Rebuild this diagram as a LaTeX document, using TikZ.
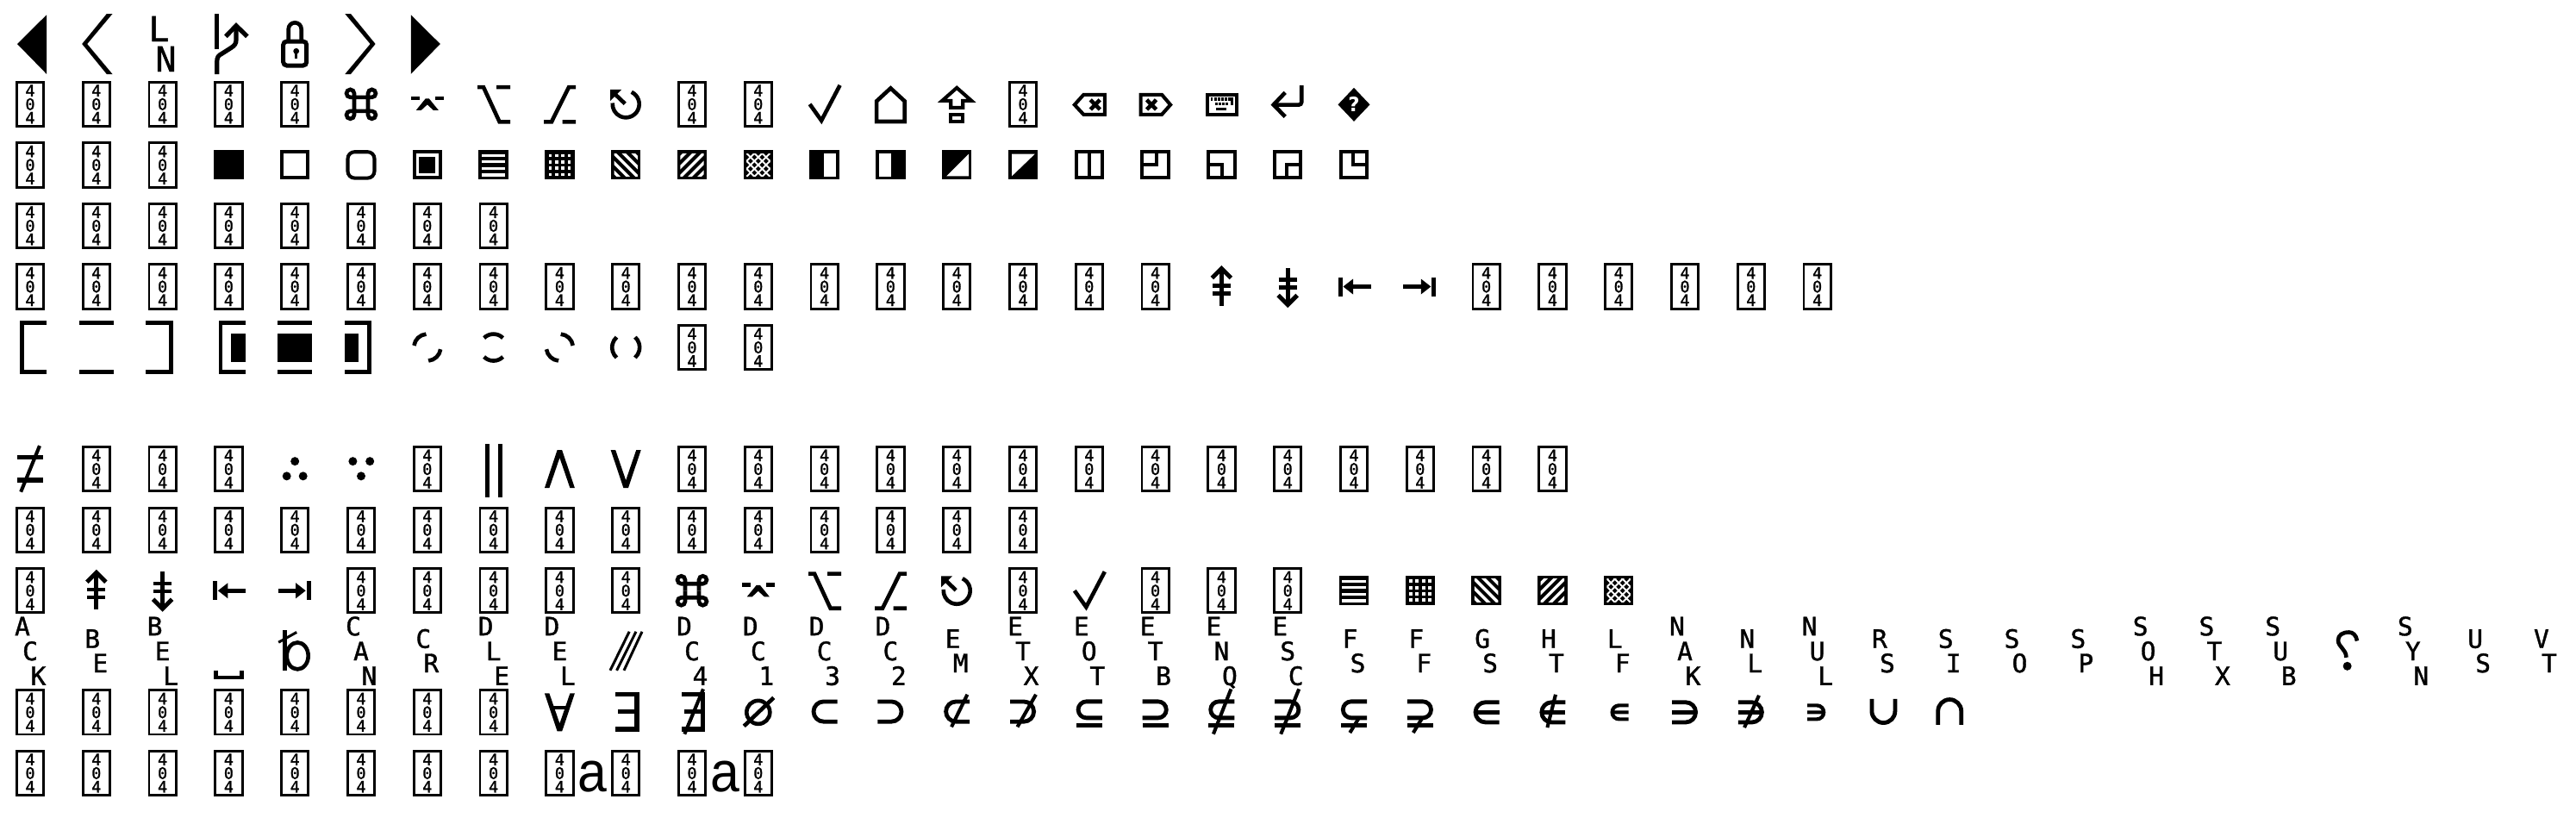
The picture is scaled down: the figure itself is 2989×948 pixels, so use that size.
\documentclass[tikz,border=0pt]{standalone}
\usepackage{fontspec}
\setmainfont{Liberation Sans}
\newfontfamily\monof[FakeBold=1.5]{DejaVu Sans Mono}
\newfontfamily\monoc[FakeBold=1.2]{DejaVu Sans Mono}
\newfontfamily\dejas{DejaVu Sans}
\tikzset{
  glyph/.style={line width=4.6pt,line cap=butt,line join=miter},
  sbar/.style={line width=4.8pt},
  thinl/.style={line width=4.1pt},
  missbox/.style={draw,line width=2.9pt,minimum width=31.3pt,minimum height=51.3pt,inner sep=0pt,align=center,
    font=\monof\fontsize{18.4}{15.8}\selectfont},
  letter/.style={inner sep=0pt,anchor=base,font=\monoc\fontsize{29.5}{30}\selectfont},
  bigletter/.style={inner sep=0pt,anchor=base,font=\monoc\fontsize{40}{40}\selectfont},
  lettera/.style={inner sep=0pt,anchor=base,xscale=0.92,transform shape,font=\fontsize{66}{66}\selectfont},
}
\newcommand{\glyphat}[3]{\begin{scope}[shift={({35+76.8*#1},{50.3+70.55*#2})},glyph]#3\end{scope}}
\newcommand{\boxes}[2]{\foreach \cc in {#2}{\node[missbox] (m#1-\cc) at ({35+76.8*\cc},{50.3+70.55*#1}) {4\\0\\4};}}
\newcommand{\trio}[4]{%
  \node[letter] (t#1a) at ({26+76.8*#1},737.2) {#2};
  \node[letter] (t#1b) at ({35+76.8*#1},766) {#3};
  \node[letter] (t#1c) at ({44.5+76.8*#1},794.8) {#4};}
\newcommand{\duo}[3]{%
  \node[letter] (t#1a) at ({30.5+76.8*#1},751.7) {#2};
  \node[letter] (t#1b) at ({39.5+76.8*#1},780) {#3};}
% chevron / triangle
\newcommand{\gTri}{\fill (-15,0.7)--(19,-33)--(19,35.5)--cycle;}
\newcommand{\gChev}{\fill (12,-34.3)--(18.7,-34.3)--(-10.6,0.7)--(18.7,35.7)--(12,35.7)--(-16.6,0.7)--cycle;}
% key symbols
\newcommand{\gCmd}{\foreach \sx/\sy in {1/1,-1/1,1/-1,-1/-1}{\draw[xscale=\sx,yscale=\sy] (0,8)--(8,8)--(8,12.5) arc[start angle=180,end angle=-90,radius=4.5]--(8,8)--(8,0);}}
\newcommand{\gCtl}{\draw (-18.8,-7)--(-8.8,-7) (9.2,-7)--(19.2,-7);
  \fill (-13,7)--(-7,7)--(0,0.5)--(7,7)--(13,7)--(2,-6.5)--(-2,-6.5)--cycle;}
\newcommand{\gOptA}{\draw[line width=4.6pt] (-18.6,-19.7)--(-11.6,-19.7)--(7,20.5)--(19.4,20.5) (3.4,-19.7)--(19.4,-19.7);}
\newcommand{\gOptB}{\draw[line width=4.6pt] (18.6,-19.7)--(10.6,-19.7)--(-9.4,20.5)--(-18.4,20.5) (3.3,20.5)--(18.6,20.5);}
\newcommand{\gUndo}{\draw (-65:15.5) arc[start angle=-65,end angle=185,radius=15.5];
  \draw (-13,-12)--(-1,-0.5); \fill (-18,-17)--(-5,-17)--(-18,-4)--cycle;}
\newcommand{\gCheck}{\draw (-17,0)--(-3.5,19)--(18,-22);}
% fills
\newcommand{\gFrame}{\fill (-17.2,-17) rectangle (17.2,17);}
\newcommand{\gHoriz}{\gFrame\foreach \a/\b in {-12.7/-9.3,-5.3/-2,2.3/5.7,10/13.4}{\fill[white] (-13.7,\a) rectangle (13.7,\b);}}
\newcommand{\gGrid}{\gFrame\foreach \a in {-11,-3.6,3.8,11}{\foreach \b in {-11,-3.6,3.8,11}{\fill[white] ({\a-1.9},{\b-1.9}) rectangle ({\a+1.9},{\b+1.9});}}}
\newcommand{\gDiagA}{\gFrame\begin{scope}\clip (-13.7,-13.4) rectangle (13.7,13.4);\foreach \d in {-22,-11,0,11,22}{\draw[white,line width=3.4pt] ({\d-20},-20)--({\d+20},20);}\end{scope}}
\newcommand{\gDiagB}{\gFrame\begin{scope}\clip (-13.7,-13.4) rectangle (13.7,13.4);\foreach \d in {-22,-11,0,11,22}{\draw[white,line width=3.4pt] ({\d+20},-20)--({\d-20},20);}\end{scope}}
\newcommand{\gCross}{\gFrame\begin{scope}\clip (-13.7,-13.4) rectangle (13.7,13.4);\foreach \d in {-27,-18,-9,0,9,18,27}{\draw[white,line width=1.9pt] ({\d+20},-20)--({\d-20},20) ({\d-20},-20)--({\d+20},20);}\end{scope}}
\newcommand{\gOutl}{\draw[thinl] (-15.2,-15) rectangle (15.2,15);}
% arrows
\newcommand{\gUpBars}{\draw[line width=4.8pt] (0,-20)--(0,22); \draw[line width=4.4pt] (-10.5,-1)--(10.5,-1) (-10.5,8)--(10.5,8); \draw[line width=5pt] (-11,-10)--(0,-21)--(11,-10);}
\newcommand{\gBarL}{\draw[line width=5pt] (-16,-11)--(-16,11) (-2,0)--(19.5,0); \fill (-12.5,0)--(-1,-9)--(-1,9)--cycle;}
% subset family
\newcommand{\subC}[3]{\draw[sbar] (#3,-#2)--(#1,-#2) arc[start angle=270,end angle=90,radius=#2]--(#3,#2);}
\newcommand{\gSubset}{\begin{scope}[yshift=0.8pt]\subC{-1}{11.6}{15}\end{scope}}
\newcommand{\gSubeq}{\begin{scope}[yshift=3pt]\subC{-3.2}{9.5}{15}\end{scope}\draw[sbar] (-15,15.3)--(15,15.3);}
\newcommand{\gIn}{\subC{-1}{11.6}{15}\draw[sbar] (-12,0)--(15,0);}
\newcommand{\gSmallIn}{\draw[line width=4.2pt] (11.5,-8)--(0.4,-8) arc[start angle=270,end angle=90,radius=8]--(11.5,8) (-7.5,0)--(11.5,0);}
\newcommand{\gExists}{\draw[line width=5.2pt] (-12,-21)--(12.8,-21)--(12.8,19.7)--(-12,19.7) (-9,-1)--(12.8,-1);}
\newcommand{\gVee}{\fill (-17.5,-22)--(-12,-22)--(0,13)--(12,-22)--(17.5,-22)--(2.8,22)--(-2.8,22)--cycle;}
\newcommand{\slashed}[4]{\draw[thinl] (#1,#2)--(#3,#4);}

\begin{document}
\begin{tikzpicture}[x=1pt,y=-1pt]
\useasboundingbox (0,0) rectangle (2989,948);
\fill[white] (0,0) rectangle (2989,948);

% ---------- 404 boxes
\boxes{1}{0,1,2,3,4,10,11,15}
\boxes{2}{0,1,2}
\boxes{3}{0,1,2,3,4,5,6,7}
\boxes{4}{0,1,...,17,22,23,24,25,26,27}
\boxes{5}{10,11}
\boxes{7}{1,2,3,6,10,11,...,23}
\boxes{8}{0,1,...,15}
\boxes{9}{0,5,6,7,8,9,15,17,18,19}
\boxes{11}{0,1,...,7}
\boxes{12}{0,1,...,11}

% ---------- row 0
\glyphat{0}{0}{\gTri}
\glyphat{1}{0}{\gChev}
\node[bigletter] (ln1) at (184.5,48) {L};
\node[bigletter] (ln2) at (192.5,83) {N};
\glyphat{3}{0}{\draw[line width=5.2pt] (-13.7,-34)--(-13.7,6.5);
  \draw[line width=5.2pt] (-13.7,35.7)--(-13.7,22) .. controls (-13.7,16) and (-12,14) .. (-8,12) -- (3,5) .. controls (7,2.5) and (8.6,0) .. (8.6,-4) -- (8.6,-19);
  \draw[line width=5.2pt] (-3.5,-8)--(8.6,-20.5)--(21.5,-8);}
\glyphat{4}{0}{\draw[line width=5pt,rounded corners=4pt] (-13.5,-2.3) rectangle (13.5,25.7);
  \draw (-7.5,-2)--(-7.5,-16.5) arc[start angle=180,end angle=360,radius=7.5]--(7.5,-2);
  \fill (1.5,9) circle[radius=3.4];
  \draw[line width=3pt] (1.5,9)--(1.5,18);}
\glyphat{5}{0}{\begin{scope}[xscale=-1]\gChev\end{scope}}
\glyphat{6}{0}{\begin{scope}[xscale=-1]\gTri\end{scope}}

% ---------- row 1
\glyphat{5}{1}{\gCmd}
\glyphat{6}{1}{\gCtl}
\glyphat{7}{1}{\gOptA}
\glyphat{8}{1}{\gOptB}
\glyphat{9}{1}{\gUndo}
\glyphat{12}{1}{\gCheck}
\glyphat{13}{1}{\draw (0,-18.5)--(16.3,-3.5)--(16.3,20.1)--(-16.3,20.1)--(-16.3,-3.5)--cycle;}
\glyphat{14}{1}{\draw[thinl] (0,-19)--(17,-4)--(7,-4)--(7,4)--(-7,4)--(-7,-4)--(-17,-4)--cycle;
  \draw[thinl] (-6.8,12.5) rectangle (6.8,20.5);}
\glyphat{16}{1}{\draw[thinl] (-17,0.7)--(-6.5,-11)--(18,-11)--(18,12)--(-6.5,12)--cycle;
  \draw (1.5,-5)--(12.5,6.2) (12.5,-5)--(1.5,6.2);}
\glyphat{17}{1}{\draw[thinl] (-17,-11)--(7.5,-11)--(17.5,0.7)--(7.5,12)--(-17,12)--cycle;
  \draw (-10,-5)--(1,6.2) (1,-5)--(-10,6.2);}
\glyphat{18}{1}{\draw[thinl] (-16.7,-11)rectangle(17.7,12);
  \foreach \a in {-12.7,-8.5,-4.5,-0.5,3.5,7.5,11}{\fill ({\a},-7.5) rectangle ({\a+2.6},-3.8);}
  \foreach \a in {-7,-3,1,5}{\fill ({\a},-2.2) rectangle ({\a+2.6},1.6);}
  \fill (11,-7.5) rectangle (13.6,1.6);
  \fill (-6,4.5) rectangle (6,7.6);}
\glyphat{19}{1}{\draw[rounded corners=3pt] (-15,0.7)--(16,0.7)--(16,-21.7);
  \draw (-3,-13.5)--(-16.5,0.7)--(-3,14.5);}
\glyphat{20}{1}{\fill (0,-19)--(18.5,0.5)--(0,20)--(-18.5,0.5)--cycle;
  \node[white,inner sep=0pt,font=\dejas\bfseries\fontsize{23}{23}\selectfont] (qd) at (0,0.5) {?};}

% ---------- row 2
\glyphat{3}{2}{\gFrame}
\glyphat{4}{2}{\gOutl}
\glyphat{5}{2}{\draw[thinl,rounded corners=8pt] (-15.5,-15.2) rectangle (15.5,15.2);}
\glyphat{6}{2}{\gOutl\fill (-9.5,-9.5) rectangle (9.5,9.5);}
\glyphat{7}{2}{\gHoriz}
\glyphat{8}{2}{\gGrid}
\glyphat{9}{2}{\gDiagA}
\glyphat{10}{2}{\gDiagB}
\glyphat{11}{2}{\gCross}
\glyphat{12}{2}{\gFrame\fill[white] (-1,-13.3) rectangle (13.4,13.3);}
\glyphat{13}{2}{\gFrame\fill[white] (-13.4,-13.3) rectangle (1,13.3);}
\glyphat{14}{2}{\gFrame\fill[white] (13.8,-12.7)--(-11.9,13)--(13.8,13)--cycle;}
\glyphat{15}{2}{\gFrame\fill[white] (-13,-12.7)--(13.7,-12.7)--(-13,13)--cycle;}
\glyphat{16}{2}{\gOutl\draw[thinl] (0,-15)--(0,15);}
\glyphat{17}{2}{\gOutl\draw[thinl] (1,-15)--(1,0)--(-15,0);}
\glyphat{18}{2}{\gOutl\draw[thinl] (-15,0)--(1,0)--(1,15);}
\glyphat{19}{2}{\gOutl\draw[thinl] (-1,15)--(-1,0)--(15,0);}
\glyphat{20}{2}{\gOutl\draw[thinl] (-1,-15)--(-1,0)--(15,0);}

% ---------- row 4
\glyphat{18}{4}{\gUpBars}
\glyphat{19}{4}{\begin{scope}[yscale=-1]\gUpBars\end{scope}}
\glyphat{20}{4}{\gBarL}
\glyphat{21}{4}{\begin{scope}[xscale=-1]\gBarL\end{scope}}

% ---------- row 5
\glyphat{0}{5}{\draw[line width=5pt] (19,-28.3)--(-9.5,-28.3)--(-9.5,28.3)--(19,28.3);}
\glyphat{1}{5}{\draw[line width=5pt] (-20,-28.3)--(20,-28.3) (-20,28.3)--(20,28.3);}
\glyphat{2}{5}{\draw[line width=5pt] (-19.6,-28.3)--(9.8,-28.3)--(9.8,28.3)--(-19.6,28.3);}
\glyphat{3}{5}{\draw[line width=4.6pt] (19.6,-28.3)--(-9.3,-28.3)--(-9.3,28.3)--(19.6,28.3);\fill (2.5,-16.5) rectangle (19.6,17);}
\glyphat{4}{5}{\draw[line width=4.6pt] (-20,-28.3)--(20,-28.3) (-20,28.3)--(20,28.3);\fill (-20,-16.5) rectangle (20,17);}
\glyphat{5}{5}{\draw[line width=4.6pt] (-19,-28.3)--(9.7,-28.3)--(9.7,28.3)--(-19,28.3);\fill (-19,-16.5) rectangle (-2.6,17);}
\glyphat{6}{5}{\draw[line width=4.6pt] (188:15.5) arc[start angle=188,end angle=265,radius=15.5] (8:15.5) arc[start angle=8,end angle=85,radius=15.5];}
\glyphat{7}{5}{\draw[line width=4.6pt] (225:15.5) arc[start angle=225,end angle=315,radius=15.5] (45:15.5) arc[start angle=45,end angle=135,radius=15.5];}
\glyphat{8}{5}{\draw[line width=4.6pt] (275:15.5) arc[start angle=275,end angle=352,radius=15.5] (95:15.5) arc[start angle=95,end angle=172,radius=15.5];}
\glyphat{9}{5}{\draw[line width=4.6pt] (-48:16) arc[start angle=-48,end angle=48,radius=16] (132:16) arc[start angle=132,end angle=228,radius=16];}

% ---------- row 7
\glyphat{0}{7}{\draw[line width=5.5pt] (-14.6,-13.8)--(14.7,-13.8) (-14.6,12.7)--(14.7,12.7); \slashed{11}{-27}{-10.8}{26.5}}
\glyphat{4}{7}{\fill (0,-9) circle[radius=5] (-9.5,8.2) circle[radius=5] (9.5,8.2) circle[radius=5];}
\glyphat{5}{7}{\fill (-9.6,-9) circle[radius=5] (10.2,-9) circle[radius=5] (0,8.2) circle[radius=5];}
\glyphat{7}{7}{\draw[line width=5.3pt] (-7.3,-29)--(-7.3,32.5) (7.6,-29)--(7.6,32.5);}
\glyphat{8}{7}{\begin{scope}[yscale=-1]\gVee\end{scope}}
\glyphat{9}{7}{\gVee}

% ---------- row 9
\glyphat{1}{9}{\gUpBars}
\glyphat{2}{9}{\begin{scope}[yscale=-1]\gUpBars\end{scope}}
\glyphat{3}{9}{\gBarL}
\glyphat{4}{9}{\begin{scope}[xscale=-1]\gBarL\end{scope}}
\glyphat{10}{9}{\gCmd}
\glyphat{11}{9}{\gCtl}
\glyphat{12}{9}{\gOptA}
\glyphat{13}{9}{\gOptB}
\glyphat{14}{9}{\gUndo}
\glyphat{16}{9}{\gCheck}
\glyphat{20}{9}{\gHoriz}
\glyphat{21}{9}{\gGrid}
\glyphat{22}{9}{\gDiagA}
\glyphat{23}{9}{\gDiagB}
\glyphat{24}{9}{\gCross}

% ---------- row 10: control pictures
\trio{0}{A}{C}{K}
\duo{1}{B}{E}
\trio{2}{B}{E}{L}
\glyphat{3}{10}{\draw[line width=4.6pt] (-15,21.7)--(-15,30)--(15,30)--(15,21.7);}
\glyphat{4}{10}{\draw (-12,-25)--(-12,22); \draw (3,5.1) ellipse[x radius=12.5,y radius=15.5];\draw[line width=3pt] (-19,-10.6)--(2,-22.3);}
\trio{5}{C}{A}{N}
\duo{6}{C}{R}
\trio{7}{D}{L}{E}
\trio{8}{D}{E}{L}
\glyphat{9}{10}{\draw[line width=3pt] (4,-23)--(-18.2,22) (11.8,-23)--(-10.6,22) (18.8,-23)--(-2.2,22);}
\trio{10}{D}{C}{4}
\trio{11}{D}{C}{1}
\trio{12}{D}{C}{3}
\trio{13}{D}{C}{2}
\duo{14}{E}{M}
\trio{15}{E}{T}{X}
\trio{16}{E}{O}{T}
\trio{17}{E}{T}{B}
\trio{18}{E}{N}{Q}
\trio{19}{E}{S}{C}
\duo{20}{F}{S}
\duo{21}{F}{F}
\duo{22}{G}{S}
\duo{23}{H}{T}
\duo{24}{L}{F}
\trio{25}{N}{A}{K}
\duo{26}{N}{L}
\trio{27}{N}{U}{L}
\duo{28}{R}{S}
\duo{29}{S}{I}
\duo{30}{S}{O}
\duo{31}{S}{P}
\trio{32}{S}{O}{H}
\trio{33}{S}{T}{X}
\trio{34}{S}{U}{B}
\glyphat{35}{10}{\draw (12,-12.3) .. controls (11,-19) and (7,-22.3) .. (2.6,-22.3) .. controls (-5,-22.3) and (-10,-19) .. (-10,-13) .. controls (-10,-5) and (-0.6,-3) .. (-0.6,7);
  \fill (0.6,17) circle[radius=5];}
\trio{36}{S}{Y}{N}
\duo{37}{U}{S}
\duo{38}{V}{T}

% ---------- row 11
\glyphat{8}{11}{\gVee\draw[thinl] (-10,-5)--(10,-5);}
\glyphat{9}{11}{\gExists}
\glyphat{10}{11}{\gExists\slashed{13}{-27}{-8.7}{25.3}}
\glyphat{11}{11}{\draw (0,0) circle[radius=13.5];\draw (18,-17)--(-16.5,16);}
\glyphat{12}{11}{\gSubset}
\glyphat{13}{11}{\begin{scope}[xscale=-1]\gSubset\end{scope}}
\glyphat{14}{11}{\gSubset\slashed{12.2}{-20.6}{-6.2}{17}}
\glyphat{15}{11}{\begin{scope}[xscale=-1]\gSubset\end{scope}\slashed{15}{-20.6}{-6.5}{17}}
\glyphat{16}{11}{\gSubeq}
\glyphat{17}{11}{\begin{scope}[xscale=-1]\gSubeq\end{scope}}
\glyphat{18}{11}{\gSubeq\slashed{11}{-27}{-9.5}{25.3}}
\glyphat{19}{11}{\begin{scope}[xscale=-1]\gSubeq\end{scope}\slashed{13}{-27}{-8}{25.3}}
\glyphat{20}{11}{\gSubeq\slashed{6}{6.3}{-4.7}{23.7}}
\glyphat{21}{11}{\begin{scope}[xscale=-1]\gSubeq\end{scope}\slashed{2.7}{6.3}{-8}{23.7}}
\glyphat{22}{11}{\gIn}
\glyphat{23}{11}{\gIn\slashed{3.6}{-20.6}{-6}{17.7}}
\glyphat{24}{11}{\gSmallIn}
\glyphat{25}{11}{\begin{scope}[xscale=-1]\gIn\end{scope}}
\glyphat{26}{11}{\begin{scope}[xscale=-1]\gIn\end{scope}\slashed{9.2}{-19.6}{-7.8}{17.7}}
\glyphat{27}{11}{\begin{scope}[xscale=-1]\gSmallIn\end{scope}}
\glyphat{28}{11}{\draw[sbar] (-13.5,-15.6)--(-13.5,-1.3) arc[start angle=180,end angle=0,radius=13.5]--(13.5,-15.6);}
\glyphat{29}{11}{\draw[sbar] (-13.5,14.5)--(-13.5,-1.3) arc[start angle=180,end angle=360,radius=13.5]--(13.5,14.5);}

% ---------- row 12: the two letters
\node[lettera] (a1) at (687,918) {a};
\node[lettera] (a2) at (841,918) {a};
\end{tikzpicture}
\end{document}
